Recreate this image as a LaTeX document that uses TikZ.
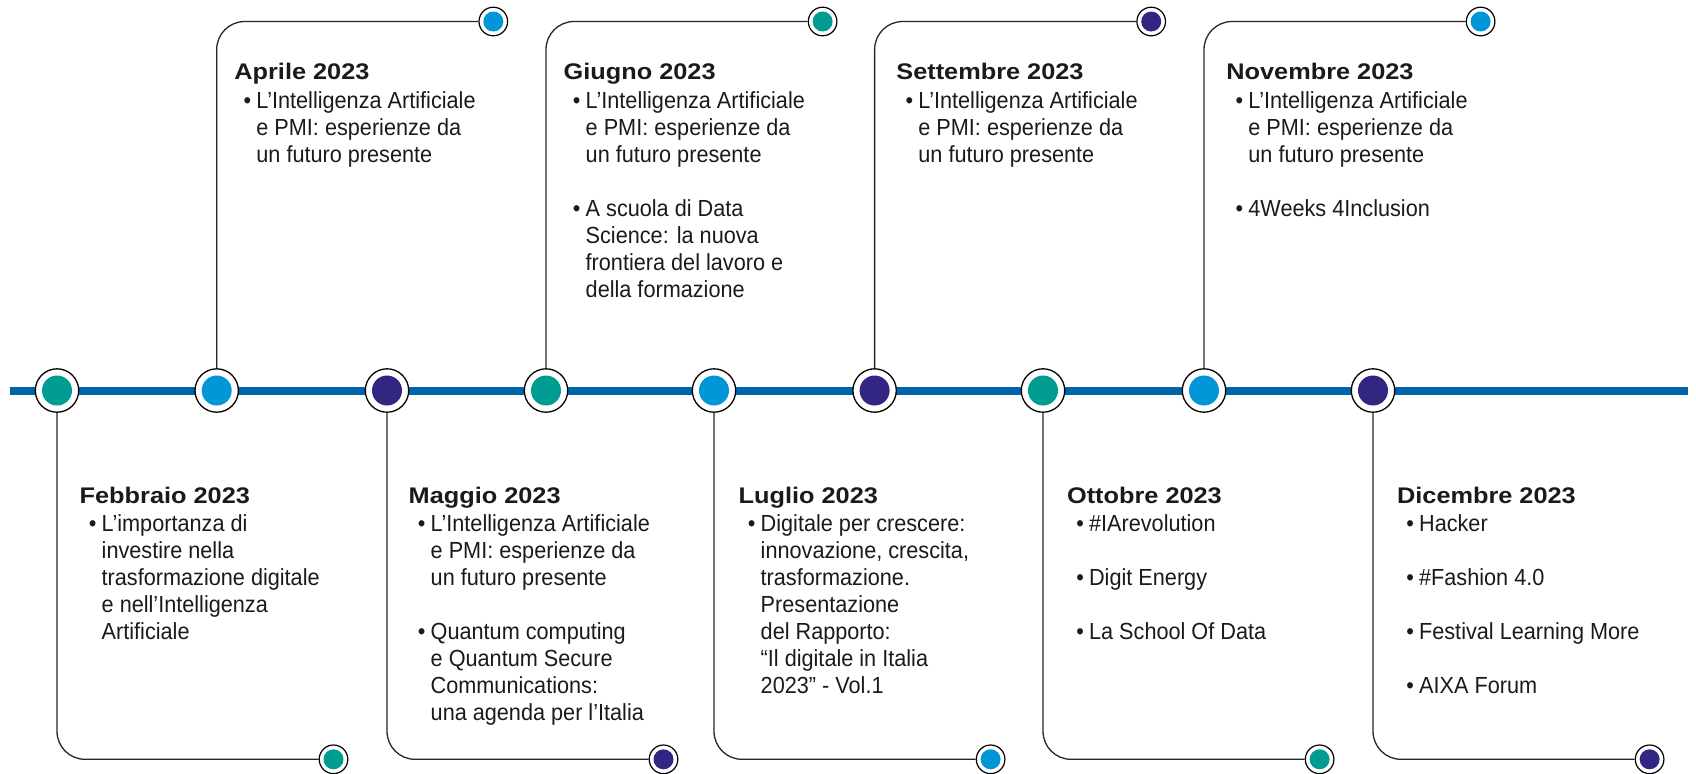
\documentclass[tikz,border=0pt]{standalone}
\usepackage{fontspec}
\newfontfamily\bodyfont{Liberation Sans}[FakeStretch=0.93]
\newfontfamily\titlefont{Liberation Sans Bold}[FakeStretch=1.12]
\definecolor{cteal}{RGB}{0,155,145}
\definecolor{cblue}{RGB}{0,150,216}
\definecolor{cpurple}{RGB}{49,39,131}
\definecolor{cline}{RGB}{0,100,170}
\definecolor{ctext}{RGB}{26,26,26}
\newcommand\ttl[1]{\hbox{\titlefont\fontsize{11.3pt}{13.5pt}\selectfont #1}\vskip0.8pt}
\newcommand\bl[1]{\hbox{\hspace*{4.6pt}\makebox[6.4pt][l]{\textbullet}#1}}
\newcommand\cl[1]{\hbox{\hspace*{11pt}#1}}
\newcommand\gp{\vskip 13.5pt}
\newcommand\cardbox[1]{\vtop{\bodyfont\fontsize{11.65pt}{13.5pt}\selectfont\baselineskip=13.5pt\lineskiplimit=-100pt\lineskip=0pt #1}}
\begin{document}
\begin{tikzpicture}[x=0.5pt,y=-0.5pt,
  milestone/.style={circle, draw=black, line width=0.65pt, fill=white, minimum size=21.7pt, inner sep=0pt,
    path picture={\fill[#1] (path picture bounding box.center) circle[radius=7.5pt];}},
  enddot/.style={circle, draw=black, line width=0.6pt, fill=white, minimum size=14.3pt, inner sep=0pt,
    path picture={\fill[#1] (path picture bounding box.center) circle[radius=5pt];}},
  conn/.style={draw=black!85, line width=0.65pt, rounded corners=14pt},
  timeline/.style={draw=cline, line width=4pt},
  cardtxt/.style={anchor=base west, inner sep=0pt, text=ctext}]
\useasboundingbox (0,0) rectangle (1696,773);
% timeline
\coordinate (tl0) at (10,390.5);
\coordinate (tl1) at (1688,390.5);
\draw[timeline] (tl0) -- (tl1);
% milestones
\node[milestone=cteal]   (m1) at (57,390.5) {};
\node[milestone=cblue]   (m2) at (216.7,390.5) {};
\node[milestone=cpurple] (m3) at (387,390.5) {};
\node[milestone=cteal]   (m4) at (546,390.5) {};
\node[milestone=cblue]   (m5) at (714,390.5) {};
\node[milestone=cpurple] (m6) at (874.6,390.5) {};
\node[milestone=cteal]   (m7) at (1043,390.5) {};
\node[milestone=cblue]   (m8) at (1204,390.5) {};
\node[milestone=cpurple] (m9) at (1373,390.5) {};
% end dots
\node[enddot=cteal]   (s1) at (333.5,759.3) {};
\node[enddot=cblue]   (s2) at (493.3,21.5) {};
\node[enddot=cpurple] (s3) at (663.5,759.3) {};
\node[enddot=cteal]   (s4) at (822.6,21.5) {};
\node[enddot=cblue]   (s5) at (990.6,759.3) {};
\node[enddot=cpurple] (s6) at (1151.2,21.5) {};
\node[enddot=cteal]   (s7) at (1319.6,759.3) {};
\node[enddot=cblue]   (s8) at (1480.6,21.5) {};
\node[enddot=cpurple] (s9) at (1649.6,759.3) {};
% connectors
\draw[conn] (m1.south) |- (s1.west);
\draw[conn] (m2.north) |- (s2.west);
\draw[conn] (m3.south) |- (s3.west);
\draw[conn] (m4.north) |- (s4.west);
\draw[conn] (m5.south) |- (s5.west);
\draw[conn] (m6.north) |- (s6.west);
\draw[conn] (m7.south) |- (s7.west);
\draw[conn] (m8.north) |- (s8.west);
\draw[conn] (m9.south) |- (s9.west);
% texts
\node[cardtxt] (c1) at (79.3,503) {\cardbox{\ttl{Febbraio 2023}\bl{L’importanza di}\cl{investire nella}\cl{trasformazione digitale}\cl{e nell’Intelligenza}\cl{Artificiale}}};
\node[cardtxt] (c2) at (234,79.5) {\cardbox{\ttl{Aprile 2023}\bl{L’Intelligenza Artificiale}\cl{e PMI: esperienze da}\cl{un futuro presente}}};
\node[cardtxt] (c3) at (408.3,503) {\cardbox{\ttl{Maggio 2023}\bl{L’Intelligenza Artificiale}\cl{e PMI: esperienze da}\cl{un futuro presente}\gp\bl{Quantum computing}\cl{e Quantum Secure}\cl{Communications:}\cl{una agenda per l’Italia}}};
\node[cardtxt] (c4) at (563.3,79.5) {\cardbox{\ttl{Giugno 2023}\bl{L’Intelligenza Artificiale}\cl{e PMI: esperienze da}\cl{un futuro presente}\gp\bl{A scuola di Data}\cl{Science: la nuova}\cl{frontiera del lavoro e}\cl{della formazione}}};
\node[cardtxt] (c5) at (738.3,503) {\cardbox{\ttl{Luglio 2023}\bl{Digitale per crescere:}\cl{innovazione, crescita,}\cl{trasformazione.}\cl{Presentazione}\cl{del Rapporto:}\cl{“Il digitale in Italia}\cl{2023” - Vol.1}}};
\node[cardtxt] (c6) at (896,79.5) {\cardbox{\ttl{Settembre 2023}\bl{L’Intelligenza Artificiale}\cl{e PMI: esperienze da}\cl{un futuro presente}}};
\node[cardtxt] (c7) at (1066.7,503) {\cardbox{\ttl{Ottobre 2023}\bl{\#IArevolution}\gp\bl{Digit Energy}\gp\bl{La School Of Data}}};
\node[cardtxt] (c8) at (1226,79.5) {\cardbox{\ttl{Novembre 2023}\bl{L’Intelligenza Artificiale}\cl{e PMI: esperienze da}\cl{un futuro presente}\gp\bl{4Weeks 4Inclusion}}};
\node[cardtxt] (c9) at (1396.7,503) {\cardbox{\ttl{Dicembre 2023}\bl{Hacker}\gp\bl{\#Fashion 4.0}\gp\bl{Festival Learning More}\gp\bl{AIXA Forum}}};
\end{tikzpicture}
\end{document}
